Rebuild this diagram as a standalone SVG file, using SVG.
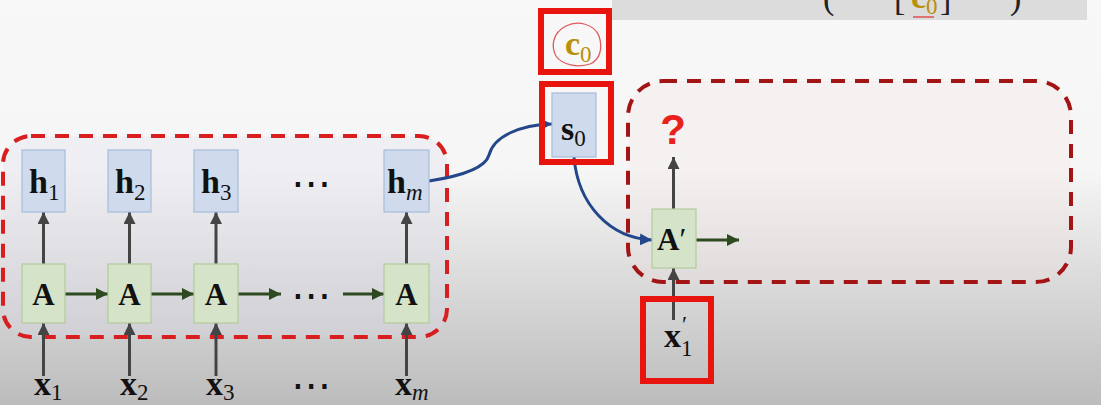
<svg xmlns="http://www.w3.org/2000/svg" width="1101" height="405" viewBox="0 0 1101 405">
<defs>
<linearGradient id="bg" x1="0" y1="0" x2="0" y2="1">
<stop offset="0" stop-color="#f8f8f8"/>
<stop offset="0.42" stop-color="#f6f6f6"/>
<stop offset="1" stop-color="#bcbcbc"/>
</linearGradient>
<marker id="ag" markerWidth="12" markerHeight="12" refX="10" refY="5" orient="auto" markerUnits="userSpaceOnUse" viewBox="0 0 10 10"><path d="M0,0 L10,5 L0,10 Z" fill="#444"/></marker>
<marker id="agr" markerWidth="12" markerHeight="12" refX="10" refY="5" orient="auto" markerUnits="userSpaceOnUse" viewBox="0 0 10 10"><path d="M0,0 L10,5 L0,10 Z" fill="#2e4a20"/></marker>
<marker id="ab" markerWidth="12" markerHeight="12" refX="10" refY="5" orient="auto" markerUnits="userSpaceOnUse" viewBox="0 0 10 10"><path d="M0,0 L10,5 L0,10 Z" fill="#23478a"/></marker>
<style>
.hb{fill:#cfdbec;stroke:#a6bcdc;stroke-width:1.2}
.ab{fill:#d5e4c8;stroke:#b2cc9c;stroke-width:1.2}
.t{font-family:"Liberation Serif","DejaVu Serif",serif;font-weight:bold;font-size:34px;fill:#111}
.ta{font-size:31px}
.s{font-family:"Liberation Serif","DejaVu Serif",serif;font-size:23px;fill:#111;font-weight:normal}
.si{font-style:italic}
.up{stroke:#444;stroke-width:3;fill:none;marker-end:url(#ag)}
.rt{stroke:#2e4a20;stroke-width:3;fill:none;marker-end:url(#agr)}
.bl{stroke:#23478a;stroke-width:3;fill:none;marker-end:url(#ab)}
.rf{fill:none;stroke:#e8150f;stroke-width:6}
.dots{font-family:"DejaVu Sans",sans-serif;font-size:40px;fill:#111}
</style>
</defs>
<rect width="1101" height="405" fill="url(#bg)"/>
<g id="topPanel">
<rect x="612" y="0" width="475" height="20" fill="#dcdcdc"/>
<text x="823" y="9" font-family="Liberation Serif,serif" font-size="34" fill="#222">(</text>
<text x="894" y="10" font-family="Liberation Serif,serif" font-size="34" fill="#222">[</text>
<text x="911" y="8" class="t" style="fill:#b8900a">c</text>
<text x="926" y="14" class="s" style="fill:#b8900a">0</text>
<text x="940" y="10" font-family="Liberation Serif,serif" font-size="34" fill="#222">]</text>
<text x="1010" y="9" font-family="Liberation Serif,serif" font-size="34" fill="#222">)</text>
<line x1="913" y1="17" x2="934" y2="17" stroke="#e05050" stroke-width="1.5"/>
</g>
<g id="encoder">
<rect x="3" y="136" width="444" height="201" rx="28" fill="#dcd6ec" fill-opacity="0.25" stroke="#d81e1e" stroke-width="4" stroke-dasharray="14 10"/>
</g>
<g id="decoder">
<rect x="628" y="81" width="443" height="201" rx="35" fill="#f8e0e0" fill-opacity="0.22" stroke="#a31515" stroke-width="4" stroke-dasharray="14 10"/>
</g>
<g id="connectors">
<line class="up" x1="43.5" y1="264" x2="43.5" y2="212"/>
<line class="up" x1="129.5" y1="264" x2="129.5" y2="212"/>
<line class="up" x1="216" y1="264" x2="216" y2="212"/>
<line class="up" x1="406.5" y1="264" x2="406.5" y2="212"/>
<line class="up" x1="43.5" y1="376" x2="43.5" y2="323"/>
<line class="up" x1="129.5" y1="376" x2="129.5" y2="323"/>
<line class="up" x1="216" y1="376" x2="216" y2="323"/>
<line class="up" x1="406.5" y1="376" x2="406.5" y2="323"/>
<line class="rt" x1="65" y1="294" x2="108" y2="294"/>
<line class="rt" x1="151" y1="294" x2="194" y2="294"/>
<line class="rt" x1="238" y1="294" x2="281" y2="294"/>
<line class="rt" x1="343" y1="294" x2="384" y2="294"/>
<path class="bl" d="M429,181 C455,177 485,170 489,155 C494,136 520,125 552,124"/>
<path class="bl" d="M574,157 C578,205 610,238 652,240"/>
<line class="up" x1="673.5" y1="209" x2="673.5" y2="157"/>
<line class="rt" x1="696" y1="240" x2="739" y2="240"/>
<line class="up" x1="673.5" y1="320" x2="673.5" y2="268"/>
</g>
<g id="h1"><rect class="hb" x="22" y="150" width="43" height="62"/><text class="t" x="29" y="193">h<tspan class="s" dy="7">1</tspan></text></g>
<g id="h2"><rect class="hb" x="108" y="150" width="43" height="62"/><text class="t" x="115" y="193">h<tspan class="s" dy="7">2</tspan></text></g>
<g id="h3"><rect class="hb" x="194" y="150" width="44" height="62"/><text class="t" x="201" y="193">h<tspan class="s" dy="7">3</tspan></text></g>
<g id="hm"><rect class="hb" x="384" y="150" width="45" height="62"/><text class="t" x="387" y="193">h<tspan class="s si" dy="7">m</tspan></text></g>
<g id="A1"><rect class="ab" x="22" y="264" width="43" height="59"/><text class="t ta" x="43.5" y="305" text-anchor="middle">A</text></g>
<g id="A2"><rect class="ab" x="108" y="264" width="43" height="59"/><text class="t ta" x="129.5" y="305" text-anchor="middle">A</text></g>
<g id="A3"><rect class="ab" x="194" y="264" width="44" height="59"/><text class="t ta" x="216" y="305" text-anchor="middle">A</text></g>
<g id="Am"><rect class="ab" x="384" y="264" width="45" height="59"/><text class="t ta" x="406.5" y="305" text-anchor="middle">A</text></g>
<g id="dots">
<text class="dots" x="311" y="197" text-anchor="middle">⋯</text>
<text class="dots" x="311" y="309" text-anchor="middle">⋯</text>
<text class="dots" x="311" y="399" text-anchor="middle">⋯</text>
</g>
<g id="x1"><text class="t" x="34" y="395">x<tspan class="s" dy="5">1</tspan></text></g>
<g id="x2"><text class="t" x="120" y="395">x<tspan class="s" dy="5">2</tspan></text></g>
<g id="x3"><text class="t" x="206" y="395">x<tspan class="s" dy="5">3</tspan></text></g>
<g id="xm"><text class="t" x="395" y="395">x<tspan class="s si" dy="5">m</tspan></text></g>
<g id="c0">
<rect class="rf" x="541" y="11" width="68" height="61"/>
<path d="M566,26 C578,20 594,24 599,36 C603,48 600,60 590,64 C578,68 562,65 556,56 C551,47 552,33 566,26 Z" fill="none" stroke="#e05a5a" stroke-width="1.3"/>
<text class="t" x="565" y="55" style="fill:#b8900a">c<tspan class="s" dy="7" style="fill:#b8900a">0</tspan></text>
</g>
<g id="s0">
<rect class="rf" x="542" y="84" width="69" height="78"/>
<rect class="hb" x="552" y="93" width="44" height="64"/>
<text class="t" x="561" y="140">s<tspan class="s" dy="6">0</tspan></text>
</g>
<g id="Aprime"><rect class="ab" x="652" y="209" width="44" height="59"/><text class="t ta" x="657" y="250">A<tspan font-weight="normal">′</tspan></text></g>
<g id="question"><text x="673" y="144" text-anchor="middle" font-family="Liberation Sans,Arial,sans-serif" font-weight="bold" font-size="42" fill="#e8211a">?</text></g>
<g id="x1prime">
<rect class="rf" x="643" y="299" width="68" height="82"/>
<text class="t" x="664" y="347">x</text>
<text class="s" x="682" y="332" font-size="16">′</text>
<text class="s" x="681" y="356" font-size="21">1</text>
</g>
</svg>
